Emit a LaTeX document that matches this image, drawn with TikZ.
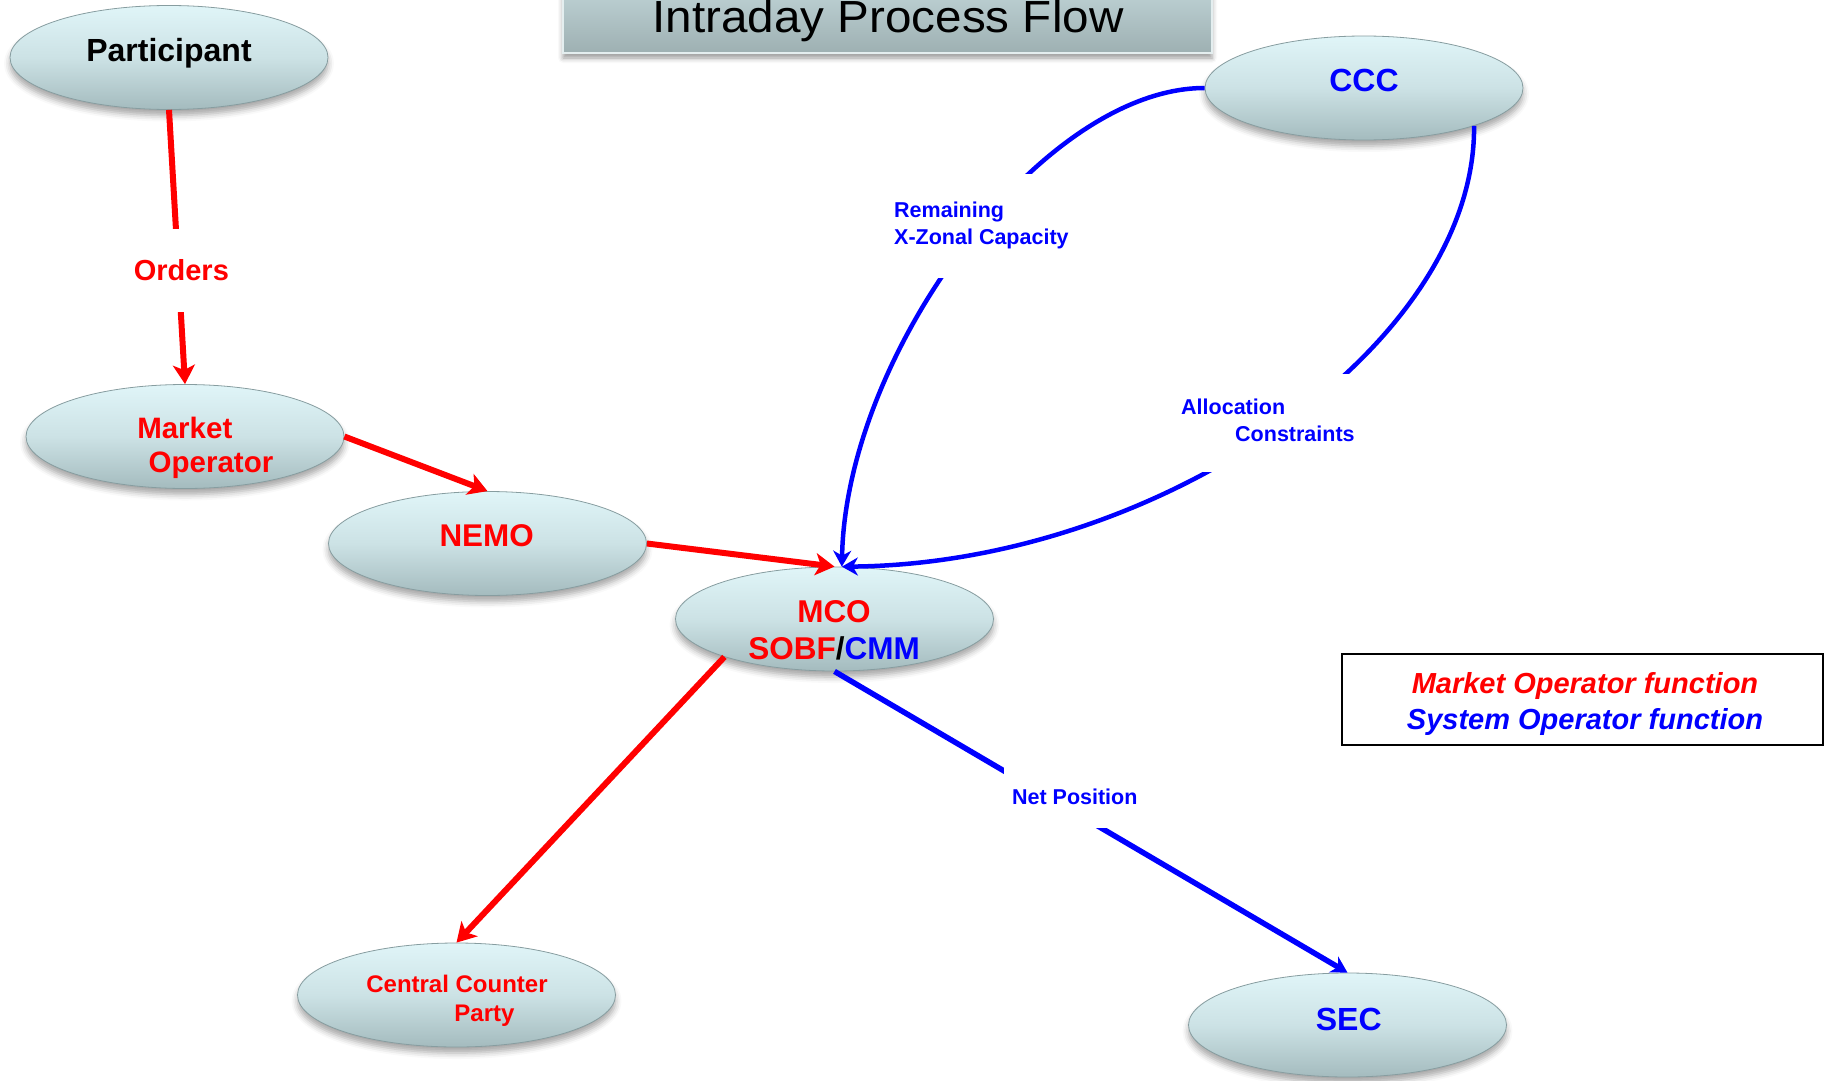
\documentclass[tikz,border=0pt]{standalone}
\usepackage{graphicx}
\usepackage{fontspec}
\setmainfont{Liberation Sans}
\usetikzlibrary{arrows.meta,shapes.geometric,shadows.blur}

\definecolor{mored}{RGB}{255,0,0}
\definecolor{soblue}{RGB}{0,0,255}
\definecolor{bubtop}{RGB}{224,245,248}
\definecolor{bubmid}{RGB}{204,226,229}
\definecolor{bubbot}{RGB}{164,187,190}
\definecolor{bubrim}{RGB}{135,157,160}
\definecolor{titletop}{RGB}{204,225,228}
\definecolor{titlebot}{RGB}{158,176,178}
\definecolor{titlerim}{RGB}{228,238,239}

% font size / baseline skip in points
\newcommand{\fsize}[2]{\fontsize{#1}{#2}\selectfont}

\begin{document}
\begin{tikzpicture}[x=1pt,y=-1pt,
  bubble/.style={ellipse, minimum width=318pt, minimum height=104pt, inner sep=0pt,
    top color=bubtop, bottom color=bubbot, middle color=bubmid,
    draw=bubrim, line width=0.8pt,
    blur shadow={shadow xshift=0pt, shadow yshift=-6pt, shadow blur radius=6pt, shadow opacity=35}},
  titlebox/.style={rectangle, minimum width=649pt, minimum height=93pt, inner sep=0pt,
    top color=titletop, bottom color=titlebot, draw=titlerim, line width=2pt,
    blur shadow={shadow xshift=0pt, shadow yshift=-5pt, shadow blur radius=5pt, shadow opacity=40}},
  bubtext/.style={anchor=base, inner sep=0pt},
  redflow/.style={draw=mored, line width=6pt, -{Stealth[length=19pt,width=22pt,inset=5pt]}},
  blueflow/.style={draw=soblue, line width=4.5pt, -{Stealth[length=16pt,width=18pt,inset=5pt]}},
  flowlabel/.style={fill=white, inner xsep=4pt},
]
\useasboundingbox (0,0) rectangle (1825,1081);

% title banner
\node[titlebox] (title) at (887.5,6.5) {};
\node[bubtext, font=\fsize{45}{45}] (title-t) at (888,33) {\scalebox{1.058}[1]{Intraday Process Flow}};

% process bubbles
\node[bubble] (part) at (169,57.5) {};
\node[bubble] (ccc)  at (1364,88) {};
\node[bubble] (mo)   at (185,436.5) {};
\node[bubble] (nemo) at (487.5,543.5) {};
\node[bubble] (mco)  at (834.5,619) {};
\node[bubble] (ccp)  at (456.5,995) {};
\node[bubble] (sec)  at (1347.5,1025) {};

% bubble captions
\node[bubtext, font=\fsize{32}{32}\bfseries] (part-t) at (169,62) {Participant};
\node[bubtext, font=\fsize{32}{32}\bfseries, text=soblue] (ccc-t) at (1364,92) {CCC};
\node[bubtext, font=\fsize{29.5}{29.5}\bfseries, text=mored] (mo-t1) at (184.8,438.3) {Market};
\node[bubtext, font=\fsize{29.5}{29.5}\bfseries, text=mored] (mo-t2) at (211,472.5) {Operator};
\node[bubtext, font=\fsize{31.4}{31.4}\bfseries, text=mored] (nemo-t) at (486.6,546) {NEMO};
\node[bubtext, font=\fsize{31.5}{31.5}\bfseries, text=mored] (mco-t1) at (834,622) {MCO};
\node[bubtext, font=\fsize{31.5}{31.5}\bfseries] (mco-t2) at (834,659.5)
  {\textcolor{mored}{SOBF}\textcolor{black}{/}\textcolor{soblue}{CMM}};
\node[bubtext, font=\fsize{24}{24}\bfseries, text=mored] (ccp-t1) at (457,992.3) {Central Counter};
\node[bubtext, font=\fsize{24}{24}\bfseries, text=mored] (ccp-t2) at (484.5,1021) {Party};
\node[bubtext, font=\fsize{32}{32}\bfseries, text=soblue] (sec-t) at (1348.7,1030) {SEC};

% market operator flows (red)
\draw[redflow] (part.south) -- node[flowlabel, pos=0.585, xshift=3pt, text=mored,
  font=\fsize{29}{29}\bfseries, minimum height=83pt] (orders) {Orders} (mo.north);
\draw[redflow] (mo.east) -- (nemo.north);
\draw[redflow] (nemo.east) -- (mco.north);
\draw[redflow] (mco.199) -- (ccp.north);

% system operator flows (blue)
\draw[blueflow, line width=5.5pt] (mco.south) -- node[flowlabel, pos=0.4165, xshift=26.6pt,
  text=soblue, font=\fsize{21.5}{21.5}\bfseries, minimum height=62pt, inner xsep=8pt]
  (netpos) {Net Position} (sec.north);
\draw[blueflow] (ccc.west) .. controls (1042,88) and (846,353) .. (mco.82);
\draw[blueflow] (ccc.341.6) .. controls (1476,345) and (1160,564) .. (mco.82);

\node[flowlabel, anchor=base west, inner ysep=25pt, text=soblue,
  font=\fsize{21.5}{27}\bfseries] (remcap) at (890,217.7)
  {\begin{tabular}[t]{@{}l@{}}Remaining\\X-Zonal Capacity\end{tabular}};
\node[flowlabel, anchor=base west, inner ysep=22pt, text=soblue,
  font=\fsize{21.5}{27}\bfseries] (alloc) at (1177,414.7)
  {\begin{tabular}[t]{@{}l@{}}Allocation\\\hspace*{54pt}Constraints\end{tabular}};

% legend
\node[draw=black, line width=1.6pt, minimum width=481pt, minimum height=91pt,
  inner sep=0pt] (legend) at (1582.5,699.5) {};
\node[bubtext, text=mored, font=\fsize{29}{29}\bfseries\itshape] (legend-mo)
  at (1585,693.4) {Market Operator function};
\node[bubtext, text=soblue, font=\fsize{29}{29}\bfseries\itshape] (legend-so)
  at (1585,729.4) {System Operator function};
\end{tikzpicture}
\end{document}
